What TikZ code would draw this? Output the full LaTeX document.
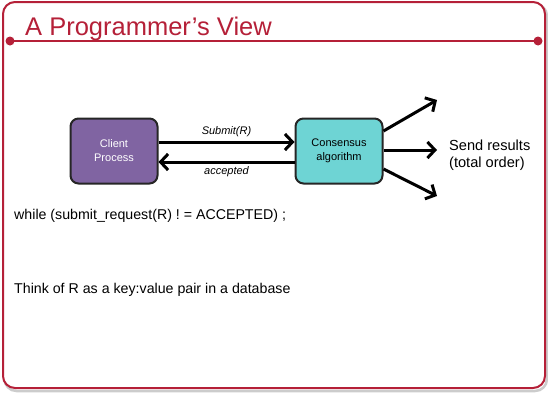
\documentclass[tikz,border=0pt]{standalone}
\usepackage{fontspec}
\setmainfont{Liberation Sans}
\usetikzlibrary{positioning, arrows.meta}
\definecolor{slidered}{RGB}{181,32,56}
\definecolor{clientpurple}{RGB}{128,100,162}
\definecolor{consensusteal}{RGB}{110,212,212}

\begin{document}
\begin{tikzpicture}[x=1pt, y=-1pt, font=\sffamily]
        % Setup the styles for the boxes and arrows
        \tikzset{box style/.style={draw=black!85, line width=2pt,
                                   rounded corners=8pt,
                                   minimum width=87pt, minimum height=65pt,
                                   align=center, font=\fontsize{11}{14}\selectfont},
                 flow/.style={line width=3pt, -{Straight Barb[length=7.5pt,width=16pt,line width=3pt]}},
                 body text/.style={anchor=base west, inner sep=0pt, font=\fontsize{14.2}{17}\selectfont}}

        \useasboundingbox (0,0) rectangle (548,394);

        % Draw the slide frame and title
        \draw[black!20, line width=2.5pt, rounded corners=12pt] (4.5,4) rectangle (547,391);
        \draw[slidered, line width=2pt, rounded corners=12pt, fill=white] (3,2) rectangle (545,388);
        \draw[slidered, line width=2.2pt] (10,41) -- (538,41);
        \fill[slidered] (10,41) circle (4.5) (538,41) circle (4.5);
        \node[anchor=base west, inner sep=0pt, text=slidered, font=\fontsize{25.5}{30}\selectfont] (title) at (25,35) {A Programmer's View};

        % Draw the processes
        \node[box style, fill=clientpurple, text=white] at (114,151) (client) {Client\\Process};
        \node[box style, fill=consensusteal] at (339,151) (consensus) {Consensus\\algorithm};

        % Connect the processes with arrows
        \draw[flow] (client.east |- 0,142) -- node[above, font=\itshape\fontsize{11}{13}\selectfont] (submit) {Submit(R)} (consensus.west |- 0,142);
        \draw[flow] (consensus.west |- 0,162) -- node[below, font=\itshape\fontsize{11}{13}\selectfont] (accepted) {accepted} (client.east |- 0,162);

        % Results going out
        \coordinate (up) at (437,100);
        \coordinate (mid) at (437,150);
        \coordinate (down) at (437,196);
        \draw[flow] (consensus.east |- 0,131) -- (up);
        \draw[flow] (consensus.east |- 0,150) -- (mid);
        \draw[flow] (consensus.east |- 0,169) -- (down);
        \node[anchor=west, align=left, inner sep=0pt, font=\fontsize{14.6}{16.5}\selectfont] (results) at (449,155) {Send results\\(total order)};

        % Body text
        \node[body text] (loop) at (14,219) {while (submit\_request(R) ! = ACCEPTED) ;};
        \node[body text] (think) at (14,293) {Think of R as a key:value pair in a database};
    \end{tikzpicture}
\end{document}
